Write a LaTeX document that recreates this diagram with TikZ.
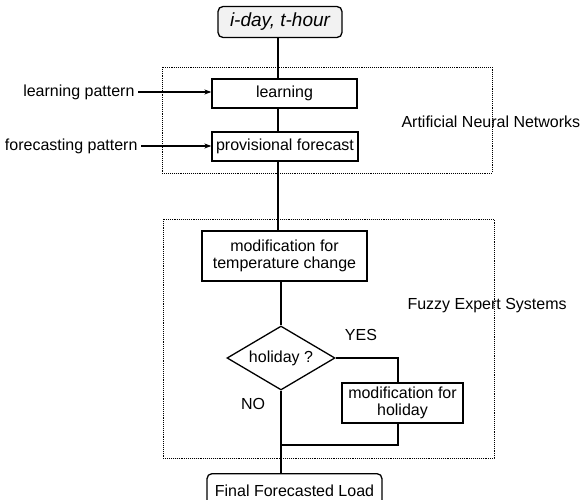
\documentclass[tikz,border=0pt]{standalone}
\usepackage{fontspec}
\setmainfont{Liberation Sans}
\usepackage{xcolor}
\usetikzlibrary{shapes.geometric,arrows.meta}

\begin{document}
\begin{tikzpicture}[x=1pt,y=-1pt,
  every node/.style={font=\fontsize{16}{17}\selectfont, text=black},
  box/.style={draw, line width=1.3pt, inner sep=2pt},
  area/.style={draw, densely dotted, line width=0.9pt},
  link/.style={draw, line width=1.1pt},
  feed/.style={link, -{Stealth[length=7pt,width=5pt]}}]

\clip (0,0) rectangle (582,500);
\useasboundingbox (0,0) rectangle (582,500);

\draw[area] (162,67) rectangle (492,173);
\draw[area] (163,219) rectangle (494,458);
\node[anchor=west] (ann) at (398,122) {Artificial Neural Networks};
\node[anchor=west] (fes) at (404,306) {Fuzzy Expert Systems};

\node[box, rounded corners=5pt, fill=gray!10, minimum width=124pt, minimum height=31pt,
  font=\fontsize{19}{20}\selectfont\itshape] (start) at (280,22) {i-day, t-hour};
\node[box, minimum width=145pt, minimum height=29pt] (learn) at (284.5,93.5) {learning};
\node[box, minimum width=146pt, minimum height=29pt] (prov) at (285,146.5) {provisional forecast};
\node[box, minimum width=165pt, minimum height=50pt, align=center] (temp) at (284.5,256)
  {modification for\\temperature change};
\node[box, diamond, aspect=1.7, inner sep=0pt, minimum width=108pt, minimum height=64pt] (hol)
  at (281,358) {holiday ?};
\node[box, minimum width=121pt, minimum height=40pt, align=center] (holmod) at (402.5,403)
  {modification for\\holiday};
\node[box, rounded corners=5pt, minimum width=175pt, minimum height=34pt, anchor=north] (final)
  at (294.5,473) {\raisebox{-5pt}{Final Forecasted Load}};

\node[anchor=east] (lpat) at (138,92) {learning pattern};
\node[anchor=east] (fpat) at (141,146) {forecasting pattern};
\node (yes) at (361,335) {YES};
\node (no) at (253,404) {NO};

\coordinate (join) at (281,445);

\draw[link] (start.south -| 278,0) -- (learn.north -| 278,0);
\draw[link] (learn.south -| 278,0) -- (prov.north -| 278,0);
\draw[link] (prov.south -| 278,0) -- (temp.north -| 278,0);
\draw[link] (temp.south -| hol.north) -- (hol.north);
\draw[link] (hol.south) -- (final.north -| hol.south);
\draw[link] (hol.east) -| (holmod.north -| 398,0);
\draw[link] (holmod.south -| 398,0) |- (join);
\draw[feed] (lpat.east) -- (learn.west |- lpat.east);
\draw[feed] (fpat.east) -- (prov.west |- fpat.east);

\end{tikzpicture}
\end{document}
